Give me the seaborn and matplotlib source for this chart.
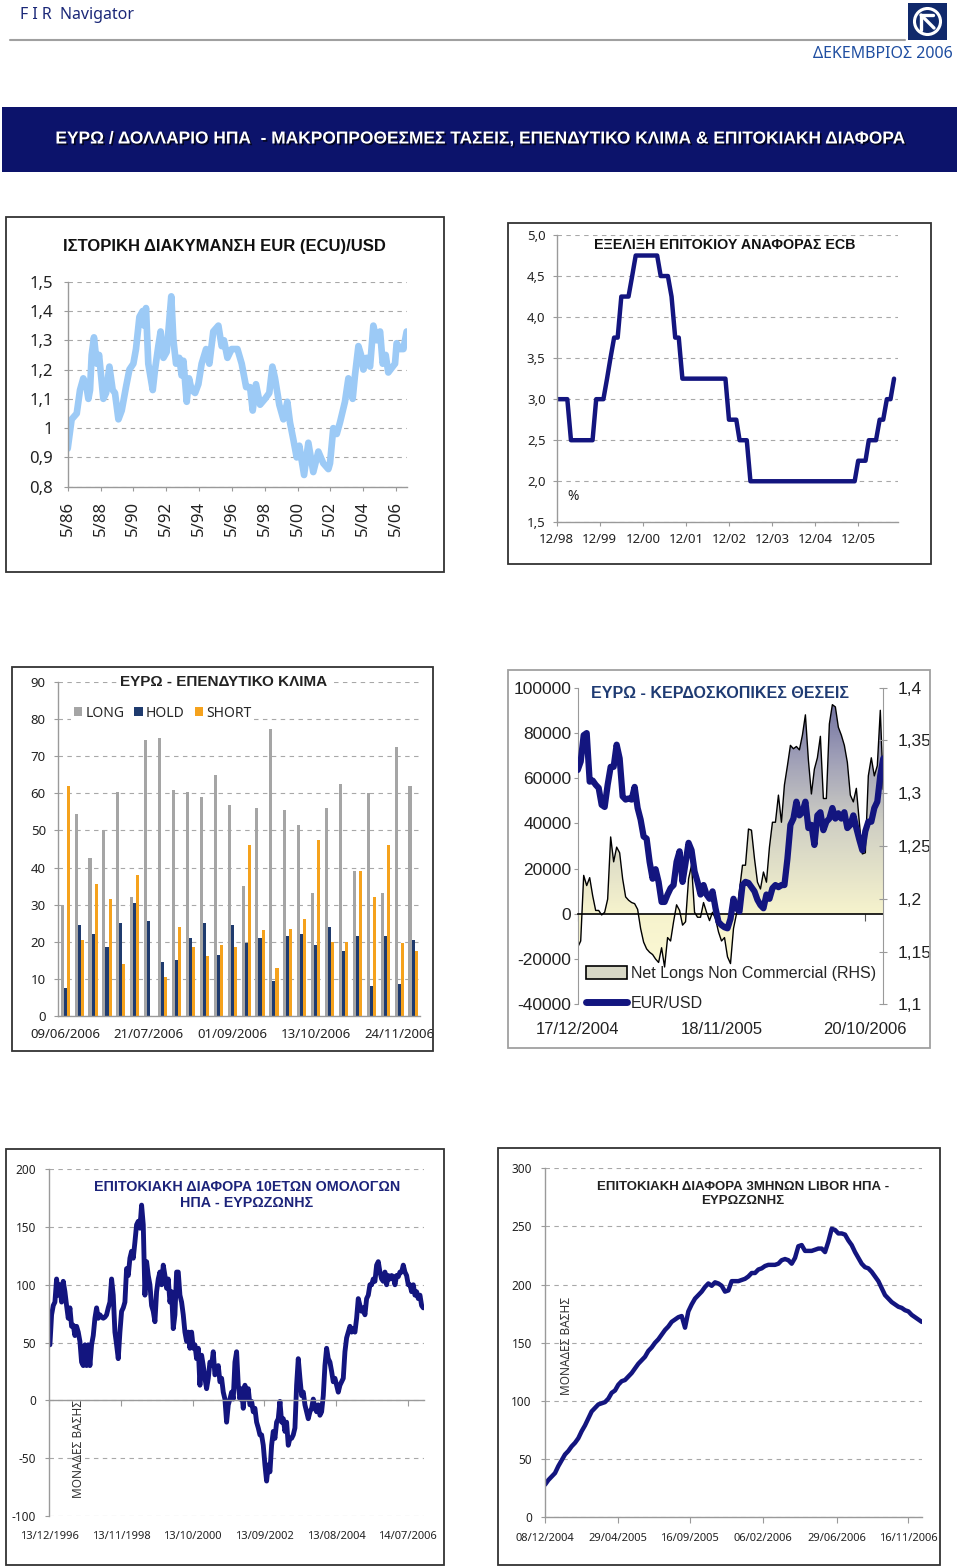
import numpy as np
import pandas as pd
import matplotlib
matplotlib.use("Agg")
import matplotlib.pyplot as plt
import matplotlib.dates as mdates
import matplotlib.patheffects as pe
from matplotlib.colors import LinearSegmentedColormap
from matplotlib.lines import Line2D
from matplotlib.patches import Ellipse, Patch, Rectangle
import seaborn as sns

sns.set_style("white")
plt.rcParams["font.family"] = ["Noto Sans", "DejaVu Sans"]
BOLD = ["Liberation Sans", "DejaVu Sans"]
NARROW = ["Liberation Sans", "DejaVu Sans"]

# ---------------- data ----------------
# EUR (ECU)/USD, decimal year
eur_hist_year = [1986.33, 1986.57, 1986.88, 1987.08, 1987.28, 1987.45, 1987.59, 1987.69, 1987.79, 1987.93,
                 1988.10, 1988.24, 1988.50, 1988.67, 1988.87, 1989.07, 1989.21, 1989.42, 1989.62, 1989.88,
                 1990.09, 1990.33, 1990.49, 1990.70, 1990.90, 1990.98, 1991.10, 1991.24, 1991.39, 1991.51,
                 1991.65, 1991.85, 1991.99, 1992.16, 1992.36, 1992.64, 1992.77, 1992.93, 1993.13, 1993.27,
                 1993.38, 1993.58, 1993.72, 1993.88, 1994.09, 1994.29, 1994.49, 1994.76, 1994.96, 1995.20,
                 1995.51, 1995.71, 1995.85, 1996.06, 1996.32, 1996.67, 1996.93, 1997.20, 1997.44, 1997.60,
                 1997.80, 1998.05, 1998.35, 1998.61, 1998.80, 1998.96, 1999.22, 1999.47, 1999.71, 1999.87,
                 2000.08, 2000.28, 2000.44, 2000.73, 2000.99, 2001.29, 2001.60, 2001.90, 2002.21, 2002.31,
                 2002.51, 2002.72, 2002.92, 2003.22, 2003.43, 2003.69, 2003.83, 2004.04, 2004.20, 2004.34,
                 2004.54, 2004.75, 2004.95, 2005.15, 2005.36, 2005.52, 2005.70, 2005.86, 2006.13, 2006.27,
                 2006.37, 2006.57, 2006.78, 2006.98]
eur_hist_rate = [0.93, 1.03, 1.05, 1.13, 1.17, 1.15, 1.10, 1.13, 1.25, 1.31,
                 1.22, 1.25, 1.10, 1.12, 1.21, 1.13, 1.12, 1.03, 1.06, 1.14,
                 1.20, 1.22, 1.27, 1.38, 1.40, 1.35, 1.41, 1.22, 1.17, 1.13,
                 1.20, 1.28, 1.33, 1.24, 1.26, 1.45, 1.30, 1.22, 1.24, 1.18,
                 1.23, 1.09, 1.17, 1.13, 1.12, 1.15, 1.22, 1.27, 1.22, 1.33,
                 1.35, 1.28, 1.30, 1.24, 1.27, 1.27, 1.22, 1.14, 1.14, 1.06,
                 1.15, 1.08, 1.10, 1.12, 1.21, 1.17, 1.08, 1.03, 1.09, 1.02,
                 0.96, 0.90, 0.94, 0.84, 0.95, 0.85, 0.92, 0.88, 0.86, 0.88,
                 1.00, 0.98, 1.02, 1.09, 1.17, 1.10, 1.18, 1.28, 1.25, 1.20,
                 1.24, 1.21, 1.35, 1.30, 1.33, 1.22, 1.25, 1.19, 1.21, 1.22,
                 1.29, 1.27, 1.27, 1.33]
eur_tick_year = [1986.33, 1988.33, 1990.33, 1992.33, 1994.33, 1996.33, 1998.33, 2000.33, 2002.33, 2004.33, 2006.33]
eur_tick_label = ["5/86", "5/88", "5/90", "5/92", "5/94", "5/96", "5/98", "5/00", "5/02", "5/04", "5/06"]

# ECB refi rate: month of change -> new rate
ecb_change_month = ["1998-12", "1999-04", "1999-11", "2000-02", "2000-03", "2000-04", "2000-06",
                    "2000-09", "2000-10", "2001-05", "2001-08", "2001-09", "2001-11", "2002-12",
                    "2003-03", "2003-06", "2005-12", "2006-03", "2006-06", "2006-08", "2006-10"]
ecb_change_rate = [3.0, 2.5, 3.0, 3.25, 3.5, 3.75, 4.25, 4.5, 4.75, 4.5, 4.25, 3.75, 3.25, 2.75,
                   2.5, 2.0, 2.25, 2.5, 2.75, 3.0, 3.25]
ecb_tick_label = ["12/98", "12/99", "12/00", "12/01", "12/02", "12/03", "12/04", "12/05"]

# EUR investment climate (weekly survey, %)
climate_first_week = "2006-06-09"
climate_long = [30, 54.5, 42.5, 50, 60.5, 32, 74.5, 75, 61, 60.5, 59, 65, 57, 35, 56, 77.5,
                55.5, 51.5, 33, 56, 62.5, 39, 60, 33, 72.5, 62]
climate_hold = [7.5, 24.5, 22, 18.5, 25, 30.5, 25.5, 14.5, 15, 21, 25, 16.5, 24.5, 19.5, 21, 9.5,
                21.5, 22, 19, 24, 17.5, 21.5, 8, 21.5, 8.5, 20.5]
climate_short = [62, 20.5, 35.5, 31.5, 14, 38, 0, 10.5, 24, 18.5, 16, 19, 18.5, 46, 23, 13,
                 23.5, 26, 47.5, 20, 20, 39, 32, 46, 19.5, 17.5]

# speculative positions (weekly from 17/12/2004)
net_longs = [-14800, -12000, 17000, 12500, 16000, 8000, 1500, 1500, -500, 700,
             6500, 34000, 23000, 29500, 27000, 15500, 7500, 6000, 5000, 4500,
             2000, -6500, -12500, -15500, -17000, -18000, -20000, -21500, -15000, -23500,
             -10500, -12000, -3500, 4000, 1500, -5000, -3500, 15500, 21500, 700,
             -1500, -1500, 5000, 700, -3000, 700, -2200, -8000, -12000, -10500,
             -19000, -22000, -6500, 0, 10500, 21500, 21500, 37500, 37000, 24500,
             14000, 11000, 18500, 14000, 29500, 40500, 40500, 52500, 40500, 57000,
             65500, 74500, 73000, 74000, 72500, 79000, 88000, 68000, 53000, 64000,
             69000, 78500, 51000, 51000, 84000, 92500, 91500, 82500, 79000, 74500,
             67000, 52500, 49500, 55500, 40500, 26500, 27000, 61000, 69000, 61000,
             65500, 90000, 55000]
spec_eurusd = [1.322, 1.330, 1.355, 1.357, 1.311, 1.312, 1.308, 1.305, 1.289, 1.287,
               1.308, 1.325, 1.325, 1.346, 1.333, 1.297, 1.294, 1.295, 1.294, 1.306,
               1.286, 1.275, 1.259, 1.257, 1.235, 1.219, 1.228, 1.216, 1.197, 1.197,
               1.204, 1.210, 1.213, 1.235, 1.245, 1.216, 1.234, 1.253, 1.246, 1.226,
               1.216, 1.204, 1.213, 1.204, 1.200, 1.207, 1.191, 1.178, 1.175, 1.173,
               1.172, 1.181, 1.200, 1.191, 1.188, 1.213, 1.216, 1.215, 1.211, 1.207,
               1.199, 1.194, 1.191, 1.204, 1.200, 1.210, 1.213, 1.211, 1.213, 1.213,
               1.238, 1.270, 1.276, 1.292, 1.279, 1.282, 1.292, 1.267, 1.270, 1.251,
               1.279, 1.282, 1.265, 1.273, 1.276, 1.286, 1.276, 1.281, 1.276, 1.282,
               1.267, 1.270, 1.279, 1.267, 1.256, 1.246, 1.264, 1.273, 1.273, 1.286,
               1.292, 1.317, 1.333]
spec_tick_label = ["17/12/2004", "18/11/2005", "20/10/2006"]

# 10y bond spread US - EUR (bp)
bond_first, bond_last = "1996-12-19", "2006-12-13"
bond_spread = [48, 74, 82, 85, 105, 91, 100, 85, 103, 94, 82, 71, 80, 64, 65, 56, 64, 59, 51, 33,
               30, 48, 30, 48, 30, 48, 56, 71, 80, 71, 74, 72, 71, 72, 74, 80, 85, 105, 91, 59,
               48, 36, 59, 77, 80, 85, 114, 108, 123, 129, 123, 137, 152, 155, 149, 169, 152, 91, 120, 108,
               100, 82, 77, 68, 94, 105, 111, 100, 117, 108, 97, 105, 85, 94, 62, 74, 111, 111, 91, 85,
               74, 59, 51, 59, 45, 59, 45, 48, 36, 45, 13, 39, 30, 19, 10, 19, 33, 30, 42, 22,
               25, 30, 16, 19, 7, 1, -19, -4, 1, 7, 1, 33, 42, 13, 1, 10, -7, 13, 1, 10,
               -4, -1, -10, -7, -19, -24, -30, -30, -39, -56, -70, -56, -62, -39, -27, -33, -19, -16, -1, -19,
               -16, -27, -19, -39, -33, -33, -30, -24, 13, 36, 19, 4, 7, -4, -10, -16, -10, -7, 1, -7,
               -10, -4, -13, -10, 4, 30, 45, 36, 33, 25, 16, 19, 13, 7, 13, 16, 19, 42, 54, 59,
               64, 59, 62, 59, 71, 88, 82, 77, 80, 74, 88, 91, 100, 100, 105, 103, 117, 120, 111, 105,
               103, 111, 100, 108, 105, 108, 107, 100, 108, 107, 111, 111, 117, 111, 108, 100, 100, 94, 100, 91,
               94, 88, 91, 82, 80]
bond_tick_date = ["1996-12-13", "1998-11-13", "2000-10-13", "2002-09-13", "2004-08-13", "2006-07-14"]
bond_tick_label = ["13/12/1996", "13/11/1998", "13/10/2000", "13/09/2002", "13/08/2004", "14/07/2006"]

# 3m LIBOR spread US - EUR (bp)
libor_first, libor_last = "2004-12-08", "2006-12-12"
libor_spread = [28, 32, 35, 38, 44, 49, 54, 57, 61, 64, 68, 74, 79, 85, 91, 94, 97, 98, 99, 102,
                107, 109, 114, 117, 118, 121, 124, 128, 132, 135, 138, 143, 146, 150, 153, 157, 161, 164, 168, 170,
                172, 173, 163, 177, 183, 188, 191, 194, 198, 201, 199, 202, 201, 199, 194, 195, 203, 203, 203, 204,
                205, 207, 210, 210, 213, 214, 216, 217, 217, 217, 218, 221, 222, 221, 218, 223, 233, 234, 229, 229,
                229, 230, 231, 231, 228, 237, 248, 247, 244, 244, 243, 238, 234, 228, 223, 218, 215, 214, 211, 207,
                203, 197, 191, 188, 185, 183, 181, 180, 178, 177, 174, 172, 170, 168]
libor_tick_date = ["2004-12-08", "2005-04-29", "2005-09-16", "2006-02-06", "2006-06-29", "2006-11-16"]
libor_tick_label = ["08/12/2004", "29/04/2005", "16/09/2005", "06/02/2006", "29/06/2006", "16/11/2006"]

# ---------------- style ----------------
NAVY = "#13157f"
LIGHT = "#9ccaf6"
GRID = "#a8a8a8"
AXIS = "#9a9a9a"
climate_colors = {"LONG": "#a5a5a5", "HOLD": "#1f3b6e", "SHORT": "#f5a21d"}

W, H = 960, 1567
fig = plt.figure(figsize=(W / 100, H / 100), dpi=100)


def fbox(x0, y0, x1, y1):
    return [x0 / W, 1 - y1 / H, (x1 - x0) / W, (y1 - y0) / H]


def ftext(x, y, s, **kw):
    kw.setdefault("va", "center")
    return fig.text(x / W, 1 - y / H, s, **kw)


def frame(x0, y0, x1, y1, color="#333333", lw=1.3):
    fig.add_artist(Rectangle((x0 / W, 1 - y1 / H), (x1 - x0) / W, (y1 - y0) / H,
                             transform=fig.transFigure, fill=False, ec=color, lw=lw))


def dress(ax, yticks, ylabels, fs, ypad, ylen=3, **kw):
    ax.set_yticks(yticks, ylabels, **kw)
    ax.tick_params(axis="y", left=True, labelsize=fs, pad=ypad, length=ylen, color=AXIS,
                   width=0.8, labelcolor="#222222")
    ax.yaxis.grid(True, color=GRID, lw=0.8, ls=(0, (4, 4)))
    ax.xaxis.grid(False)
    ax.set_axisbelow(True)
    for s in ("top", "right"):
        ax.spines[s].set_visible(False)
    for s in ("left", "bottom"):
        ax.spines[s].set_color(AXIS)
        ax.spines[s].set_linewidth(1)
    ax.set_xlabel("")
    ax.set_ylabel("")


# ---------------- header ----------------
ftext(20, 15, "F I R  Navigator", ha="left", fontsize=11.5, color="#1b2878")
fig.add_artist(Line2D([10 / W, 905 / W], [1 - 40 / H] * 2, color="#a0a0a0", lw=1.5,
                      transform=fig.transFigure))
fig.add_artist(Rectangle((908 / W, 1 - 40 / H), 39 / W, 37 / H, transform=fig.transFigure,
                         fc="#10296b", ec="none"))
fig.add_artist(Ellipse((927.5 / W, 1 - 21.5 / H), 26 / W, 26 / H, transform=fig.transFigure,
                       fill=False, ec="white", lw=2.2))
fig.add_artist(Line2D([921 / W, 921 / W, 933 / W], [1 - 30 / H, 1 - 15 / H, 1 - 15 / H],
                      color="white", lw=2.4, transform=fig.transFigure))
fig.add_artist(Line2D([921 / W, 934 / W], [1 - 15 / H, 1 - 28 / H], color="white", lw=2.4,
                      transform=fig.transFigure))
ftext(953, 54, "ΔΕΚΕΜΒΡΙΟΣ 2006", ha="right", fontsize=11.5, color="#1f4ea1")

fig.add_artist(Rectangle((2 / W, 1 - 172 / H), 955 / W, 65 / H, transform=fig.transFigure,
                         fc="#0c136b", ec="none"))
ftext(480, 139, "ΕΥΡΩ / ΔΟΛΛΑΡΙΟ ΗΠΑ  - ΜΑΚΡΟΠΡΟΘΕΣΜΕΣ ΤΑΣΕΙΣ, ΕΠΕΝΔΥΤΙΚΟ ΚΛΙΜΑ & ΕΠΙΤΟΚΙΑΚΗ ΔΙΑΦΟΡΑ",
      ha="center", color="white", fontsize=12.5, fontweight="bold", fontfamily=BOLD,
      path_effects=[pe.withSimplePatchShadow(offset=(1.2, -1.2), shadow_rgbFace="#000000", alpha=0.7)])

# ---------------- panel 1: EUR/USD history ----------------
frame(6, 217, 444, 572)
ax1 = fig.add_axes(fbox(67.7, 281.7, 407, 486.7))
sns.lineplot(x=eur_hist_year, y=eur_hist_rate, ax=ax1, color=LIGHT, lw=4.8, sort=False, estimator=None)
ax1.set_xlim(1986.33, 2007.0)
ax1.set_ylim(0.8, 1.5)
dress(ax1, [0.8, 0.9, 1.0, 1.1, 1.2, 1.3, 1.4, 1.5],
      ["0,8", "0,9", "1", "1,1", "1,2", "1,3", "1,4", "1,5"], 12, 7.5)
ax1.set_xticks(eur_tick_year, eur_tick_label, rotation=90)
ax1.tick_params(axis="x", bottom=True, length=3, color=AXIS, pad=7, labelsize=12, labelcolor="#222222")
ftext(224.5, 246.5, "ΙΣΤΟΡΙΚΗ ΔΙΑΚΥΜΑΝΣΗ EUR (ECU)/USD", ha="center", fontsize=12,
      fontweight="bold", fontfamily=BOLD, color="#111111")

# ---------------- panel 2: ECB rate ----------------
frame(508, 223, 931, 564)
ecb = pd.Series(ecb_change_rate, index=pd.to_datetime(ecb_change_month)).resample("MS").ffill()
ax2 = fig.add_axes(fbox(556.7, 235, 897.7, 522.3))
sns.lineplot(x=mdates.date2num(ecb.index), y=ecb.values, ax=ax2, color=NAVY, lw=3.2)
ax2.set_xlim(mdates.date2num(pd.Timestamp("1998-12-01")), mdates.date2num(pd.Timestamp("2006-11-01")))
ax2.set_ylim(1.5, 5.0)
dress(ax2, [1.5, 2.0, 2.5, 3.0, 3.5, 4.0, 4.5, 5.0],
      ["1,5", "2,0", "2,5", "3,0", "3,5", "4,0", "4,5", "5,0"], 9.5, 5)
ecb_ticks = mdates.date2num(pd.to_datetime(["%d-12-01" % y for y in range(1998, 2006)]))
ax2.set_xticks(ecb_ticks, ecb_tick_label)
ax2.tick_params(axis="x", bottom=True, length=3, color=AXIS, pad=5, labelsize=9.5, labelcolor="#222222")
ftext(725, 245, "ΕΞΕΛΙΞΗ ΕΠΙΤΟΚΙΟΥ ΑΝΑΦΟΡΑΣ ECB", ha="center", fontsize=10.3, fontweight="bold",
      fontfamily=BOLD, color="#111111")
ftext(573, 496, "%", ha="center", fontsize=10, color="#222222")

# ---------------- panel 3: investment climate ----------------
frame(12, 667, 433, 1051)
weeks = pd.date_range(climate_first_week, periods=len(climate_long), freq="7D").strftime("%d/%m/%Y")
climate = pd.DataFrame({
    "week": list(weeks) * 3,
    "pct": climate_long + climate_hold + climate_short,
    "position": ["LONG"] * len(weeks) + ["HOLD"] * len(weeks) + ["SHORT"] * len(weeks),
})
ax3 = fig.add_axes(fbox(58.3, 682.3, 420, 1015.7))
sns.barplot(data=climate, x="week", y="pct", hue="position", hue_order=["LONG", "HOLD", "SHORT"],
            palette=climate_colors, width=0.66, saturation=1, errorbar=None, linewidth=0, ax=ax3)
ax3.set_ylim(0, 90)
dress(ax3, list(range(0, 100, 10)), [str(v) for v in range(0, 100, 10)], 9.5, 6)
ax3.set_xticks(range(0, len(weeks), 6), [weeks[i] for i in range(0, len(weeks), 6)])
ax3.tick_params(axis="x", length=0, pad=9, labelsize=9.5, labelcolor="#222222")
sns.move_legend(ax3, "upper left", bbox_to_anchor=(71 / W, 1 - 703 / H), bbox_transform=fig.transFigure,
                ncol=3, title=None, frameon=True, framealpha=1, fontsize=10, handlelength=0.6,
                handleheight=0.6, handletextpad=0.25, columnspacing=0.7, borderpad=0.2, borderaxespad=0)
ax3.get_legend().get_frame().set_edgecolor("none")
ftext(224, 682, "ΕΥΡΩ - ΕΠΕΝΔΥΤΙΚΟ ΚΛΙΜΑ", ha="center", fontsize=11, fontweight="bold",
      fontfamily=BOLD, color="#222222", bbox=dict(fc="white", ec="none", pad=2))

# ---------------- panel 4: speculative positions ----------------
frame(508, 670, 930, 1048, color="#a0a0a0")
k = np.arange(len(net_longs))
ax4 = fig.add_axes(fbox(577.7, 687.7, 883.3, 1004.3))
area = ax4.fill_between(k, net_longs, 0, color="none")
spec_cmap = LinearSegmentedColormap.from_list(
    "spec", [(0, "#fffcd8"), (0.286, "#f6f3cd"), (0.57, "#cfcfc4"), (0.79, "#9c9cb6"), (1.0, "#66669a")])
shade = ax4.imshow(np.linspace(100000, -40000, 400).reshape(-1, 1), extent=[0, k[-1], -40000, 100000],
                   aspect="auto", cmap=spec_cmap, vmin=-40000, vmax=100000, zorder=1)
shade.set_clip_path(area.get_paths()[0], transform=ax4.transData)
sns.lineplot(x=k, y=net_longs, ax=ax4, color="black", lw=1.0, zorder=2)
ax4.set_xlim(0, k[-1])
ax4.set_ylim(-40000, 100000)
for s in ("top", "right"):
    ax4.spines[s].set_visible(False)
ax4.spines["left"].set_color(AXIS)
ax4.spines["bottom"].set_position(("data", 0))
ax4.spines["bottom"].set_color("black")
ax4.spines["bottom"].set_linewidth(1.2)
ax4.spines["bottom"].set_zorder(3)
ax4.set_yticks(range(-40000, 100001, 20000), [str(v) for v in range(-40000, 100001, 20000)],
               fontfamily=NARROW, fontsize=12.5)
ax4.tick_params(axis="y", left=True, length=3, pad=1.5, color=AXIS, labelcolor="#222222")
ax4.set_xticks([0, 48, 96])
ax4.tick_params(axis="x", bottom=True, length=5, color="#555555", labelbottom=False)
ax4.set_xlabel("")
ax4.set_ylabel("")
sec4 = ax4.secondary_xaxis("bottom")
sec4.set_xticks([0, 48, 96], spec_tick_label, fontfamily=NARROW, fontsize=12)
sec4.tick_params(length=0, pad=13, labelcolor="#222222")
sec4.spines["bottom"].set_visible(False)

ax4r = ax4.twinx()
sns.lineplot(x=k, y=spec_eurusd, ax=ax4r, color=NAVY, lw=4.5)
ax4r.set_ylim(1.1, 1.4)
for s in ("top", "left", "bottom"):
    ax4r.spines[s].set_visible(False)
ax4r.spines["right"].set_color(AXIS)
ax4r.set_yticks([1.1, 1.15, 1.2, 1.25, 1.3, 1.35, 1.4],
                ["1,1", "1,15", "1,2", "1,25", "1,3", "1,35", "1,4"], fontfamily=NARROW, fontsize=12.5)
ax4r.tick_params(axis="y", right=True, direction="inout", length=6, pad=7, color=AXIS, labelcolor="#222222")
ax4r.set_ylabel("")
ax4r.legend(handles=[Patch(fc="#d8d8c6", ec="black", lw=1.2), Line2D([], [], color=NAVY, lw=5)],
            labels=["Net Longs Non Commercial (RHS)", "EUR/USD"], loc="upper left",
            bbox_to_anchor=(586 / W, 1 - 966 / H), bbox_transform=fig.transFigure, frameon=False,
            prop={"family": NARROW, "size": 11.5}, handlelength=2.55, handleheight=0.8,
            handletextpad=0.25, labelspacing=0.95, borderpad=0, borderaxespad=0)
ftext(720, 694, "ΕΥΡΩ - ΚΕΡΔΟΣΚΟΠΙΚΕΣ ΘΕΣΕΙΣ", ha="center", fontsize=11.5, fontweight="bold",
      fontfamily=BOLD, color="#1f3b73")

# ---------------- panel 5: 10y bond spread ----------------
frame(6, 1149, 444, 1565)
x5 = mdates.date2num(pd.date_range(bond_first, bond_last, periods=len(bond_spread)))
ax5 = fig.add_axes(fbox(49.3, 1169.3, 424, 1515.7))
sns.lineplot(x=x5, y=bond_spread, ax=ax5, color=NAVY, lw=3.5)
ax5.set_xlim(mdates.date2num(pd.Timestamp("1996-12-13")), mdates.date2num(pd.Timestamp("2006-12-20")))
ax5.set_ylim(-100, 200)
dress(ax5, list(range(-100, 201, 50)), [str(v) for v in range(-100, 201, 50)], 8.5, 6.5)
ax5.spines["bottom"].set_position(("data", 0))
bond_ticks = mdates.date2num(pd.to_datetime(bond_tick_date))
ax5.set_xticks(bond_ticks)
ax5.tick_params(axis="x", bottom=True, length=4, color=AXIS, labelbottom=False)
sec5 = ax5.secondary_xaxis("bottom")
sec5.set_xticks(bond_ticks, bond_tick_label)
sec5.tick_params(length=0, pad=11, labelsize=8, labelcolor="#222222")
sec5.spines["bottom"].set_visible(False)
ftext(246.7, 1195, "ΕΠΙΤΟΚΙΑΚΗ ΔΙΑΦΟΡΑ 10ΕΤΩΝ ΟΜΟΛΟΓΩΝ\nΗΠΑ - ΕΥΡΩΖΩΝΗΣ", ha="center",
      fontsize=10.3, fontweight="bold", fontfamily=BOLD, color="#1c237a", linespacing=1.15)
ftext(78, 1449, "ΜΟΝΑΔΕΣ ΒΑΣΗΣ", ha="center", rotation=90, fontsize=8.5, color="#333333")

# ---------------- panel 6: 3m LIBOR spread ----------------
frame(498, 1148, 940, 1565)
x6 = mdates.date2num(pd.date_range(libor_first, libor_last, periods=len(libor_spread)))
ax6 = fig.add_axes(fbox(545, 1168.3, 921.7, 1517.3))
sns.lineplot(x=x6, y=libor_spread, ax=ax6, color=NAVY, lw=3.2)
ax6.set_xlim(mdates.date2num(pd.Timestamp(libor_first)), mdates.date2num(pd.Timestamp(libor_last)))
ax6.set_ylim(0, 300)
dress(ax6, list(range(0, 301, 50)), [str(v) for v in range(0, 301, 50)], 8.5, 6.5)
ax6.set_xticks(mdates.date2num(pd.to_datetime(libor_tick_date)), libor_tick_label)
ax6.tick_params(axis="x", bottom=True, length=4, color=AXIS, pad=7, labelsize=8, labelcolor="#222222")
ftext(743, 1194, "ΕΠΙΤΟΚΙΑΚΗ ΔΙΑΦΟΡΑ 3ΜΗΝΩΝ LIBOR ΗΠΑ -\nΕΥΡΩΖΩΝΗΣ", ha="center",
      fontsize=9.5, fontweight="bold", fontfamily=BOLD, color="#222222", linespacing=1.15)
ftext(566.7, 1346, "ΜΟΝΑΔΕΣ ΒΑΣΗΣ", ha="center", rotation=90, fontsize=8.5, color="#333333")

fig.savefig("out.png", dpi=100, facecolor="white")
